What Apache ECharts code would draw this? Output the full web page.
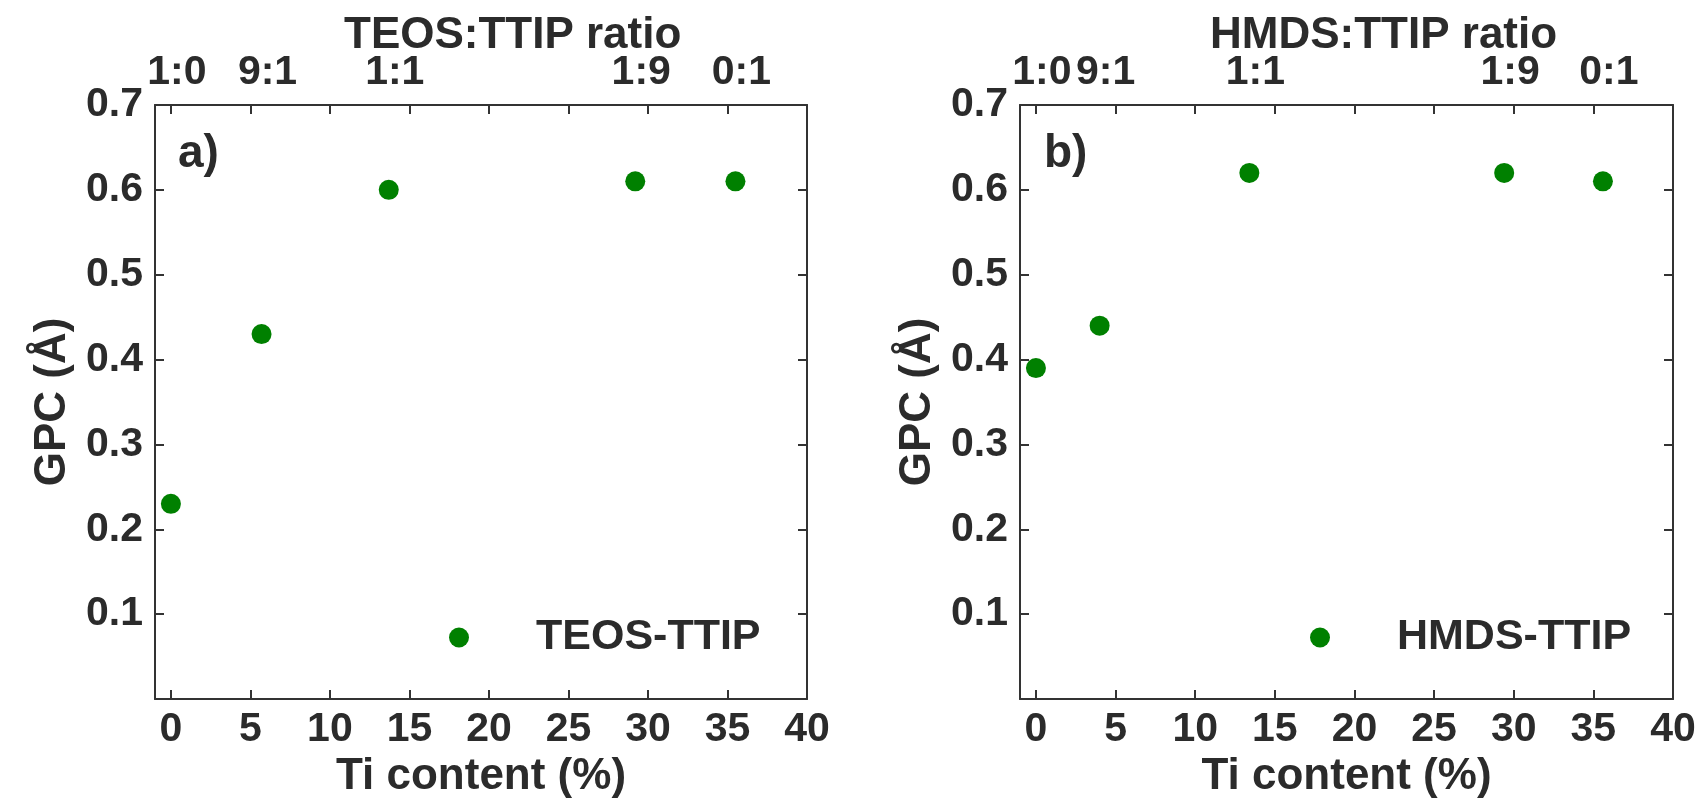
<!DOCTYPE html>
<html>
<head>
<meta charset="utf-8">
<script src="https://cdn.jsdelivr.net/npm/echarts@6/dist/echarts.min.js"></script>
<style>
  html, body { margin: 0; padding: 0; background: #fff; }
  #chart { width: 1703px; height: 806px; }
</style>
</head>
<body>
<div id="chart"></div>
<script>
// panel a) TEOS-TTIP
const tiA = [0, 5.7, 13.7, 29.2, 35.5]
const gpcA = [0.23, 0.43, 0.60, 0.61, 0.61]
const ratioA = ['1:0', '9:1', '1:1', '1:9', '0:1']
// panel b) HMDS-TTIP
const tiB = [0, 4.0, 13.4, 29.4, 35.6]
const gpcB = [0.39, 0.44, 0.62, 0.62, 0.61]
const ratioB = ['1:0', '9:1', '1:1', '1:9', '0:1']
// shared ticks
const xTicks = [0, 5, 10, 15, 20, 25, 30, 35, 40]
const yTicks = [0.1, 0.2, 0.3, 0.4, 0.5, 0.6, 0.7]

const FONT = "'Liberation Sans', Arial, sans-serif"
const INK = '#2b2b2b'
const LINE = '#333'

let chart = echarts.init(document.getElementById('chart'))

function bottomAxis (idx) {
  return {
    type: 'value', gridIndex: idx, position: 'bottom', min: -1, max: 40,
    name: 'Ti content (%)', nameLocation: 'middle', nameGap: 53,
    nameTextStyle: { fontFamily: FONT, fontWeight: 'bold', fontSize: 44, color: INK },
    axisLine: { show: true, onZero: false, lineStyle: { color: LINE, width: 2 } },
    axisTick: { show: true, inside: true, length: 9, customValues: xTicks, lineStyle: { color: LINE, width: 2 } },
    axisLabel: { customValues: xTicks, margin: 10, fontFamily: FONT, fontWeight: 'bold', fontSize: 41, color: INK },
    splitLine: { show: false }
  }
}

function topAxis (idx, pos, names) {
  return {
    type: 'value', gridIndex: idx, position: 'top', min: -1, max: 40,
    axisLine: { show: true, onZero: false, lineStyle: { color: LINE, width: 2 } },
    axisTick: { show: true, inside: true, length: 9, customValues: xTicks, lineStyle: { color: LINE, width: 2 } },
    axisLabel: {
      customValues: pos, margin: 12, fontFamily: FONT, fontWeight: 'bold', fontSize: 41, color: INK,
      padding: [0, 0, 0, 12],
      formatter: v => names[pos.indexOf(v)]
    },
    splitLine: { show: false }
  }
}

function leftAxis (idx) {
  return {
    type: 'value', gridIndex: idx, position: 'left', min: 0, max: 0.7,
    name: 'GPC (Å)', nameLocation: 'middle', nameGap: 80,
    nameTextStyle: { fontFamily: FONT, fontWeight: 'bold', fontSize: 44, color: INK },
    axisLine: { show: true, onZero: false, lineStyle: { color: LINE, width: 2 } },
    axisTick: { show: true, inside: true, length: 9, customValues: yTicks, lineStyle: { color: LINE, width: 2 } },
    axisLabel: {
      customValues: yTicks, margin: 12, fontFamily: FONT, fontWeight: 'bold', fontSize: 41, color: INK,
      formatter: v => v.toFixed(1)
    },
    splitLine: { show: false }
  }
}

function rightAxis (idx) {
  return {
    type: 'value', gridIndex: idx, position: 'right', min: 0, max: 0.7,
    axisLine: { show: true, onZero: false, lineStyle: { color: LINE, width: 2 } },
    axisTick: { show: true, inside: true, length: 9, customValues: yTicks, lineStyle: { color: LINE, width: 2 } },
    axisLabel: { show: false },
    splitLine: { show: false }
  }
}

function legendFor (name, left) {
  return {
    data: [name], left: left, top: 611, icon: 'circle', itemWidth: 20, itemHeight: 20,
    selectedMode: false,
    textStyle: { fontFamily: FONT, fontWeight: 'bold', fontSize: 43, color: INK, padding: [0, 0, 0, 62] }
  }
}

chart.setOption({
  animation: false,
  grid: [
    { left: 155, top: 105, width: 652, height: 594 },
    { left: 1020, top: 105, width: 653, height: 594 }
  ],
  xAxis: [bottomAxis(0), topAxis(0, tiA, ratioA), bottomAxis(1), topAxis(1, tiB, ratioB)],
  yAxis: [leftAxis(0), rightAxis(0), leftAxis(1), rightAxis(1)],
  legend: [legendFor('TEOS-TTIP', 444), legendFor('HMDS-TTIP', 1305)],
  graphic: [
    { type: 'text', left: 344, top: 14, style: { text: 'TEOS:TTIP ratio', font: 'bold 44px ' + FONT, fill: INK } },
    { type: 'text', left: 1210, top: 14, style: { text: 'HMDS:TTIP ratio', font: 'bold 44px ' + FONT, fill: INK } },
    { type: 'text', left: 178, top: 131, style: { text: 'a)', font: 'bold 46px ' + FONT, fill: INK } },
    { type: 'text', left: 1044, top: 131, style: { text: 'b)', font: 'bold 46px ' + FONT, fill: INK } }
  ],
  series: [
    {
      name: 'TEOS-TTIP', type: 'scatter', xAxisIndex: 0, yAxisIndex: 0,
      symbolSize: 20, itemStyle: { color: '#008000', opacity: 1 },
      data: tiA.map((x, i) => [x, gpcA[i]])
    },
    {
      name: 'HMDS-TTIP', type: 'scatter', xAxisIndex: 2, yAxisIndex: 2,
      symbolSize: 20, itemStyle: { color: '#008000', opacity: 1 },
      data: tiB.map((x, i) => [x, gpcB[i]])
    }
  ]
})
</script>
</body>
</html>
